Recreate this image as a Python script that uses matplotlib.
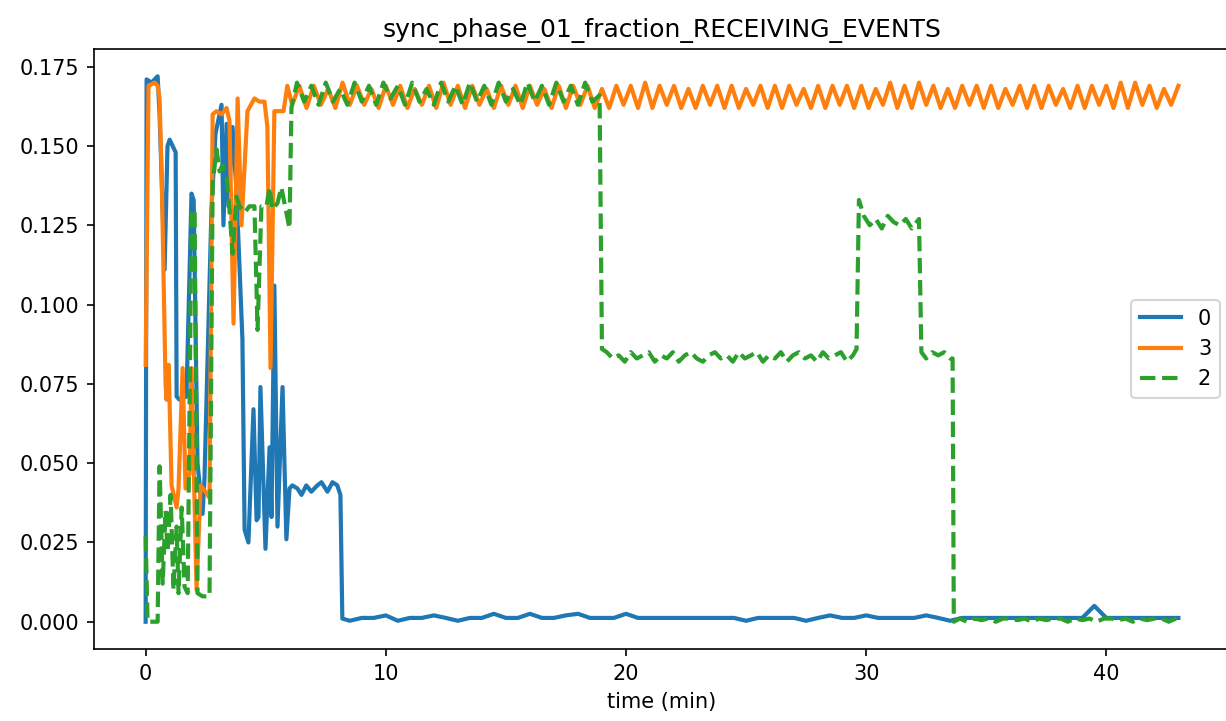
import numpy as np
import matplotlib.pyplot as plt

# --- series "0" (blue) ---
t0_early = [0.0, 0.04, 0.25, 0.37, 0.50, 0.58, 0.79, 0.91, 1.00, 1.25, 1.29, 1.41, 1.70,
            1.91, 2.00, 2.16, 2.37, 2.45, 2.74, 2.91, 3.16, 3.24, 3.37, 3.45, 3.62, 3.78,
            4.03, 4.12, 4.28, 4.49, 4.62, 4.70, 4.78, 4.99, 5.16, 5.24, 5.36, 5.49, 5.70,
            5.86, 5.99, 6.11, 6.32, 6.49, 6.69, 6.90, 7.15, 7.32, 7.57, 7.78, 7.98, 8.11, 8.19]
v0_early = [0.000, 0.171, 0.170, 0.171, 0.172, 0.160, 0.111, 0.150, 0.152, 0.148, 0.071, 0.070, 0.071,
            0.135, 0.133, 0.050, 0.034, 0.045, 0.130, 0.154, 0.163, 0.125, 0.157, 0.131, 0.156, 0.136,
            0.089, 0.029, 0.025, 0.067, 0.032, 0.033, 0.074, 0.023, 0.055, 0.033, 0.106, 0.030, 0.074,
            0.026, 0.042, 0.043, 0.042, 0.040, 0.043, 0.041, 0.043, 0.044, 0.041, 0.044, 0.043, 0.040, 0.001]
v0_tail = [0.0003, 0.0012, 0.0012, 0.002, 0.0003, 0.0012, 0.0012, 0.002, 0.0012, 0.0003,
           0.0012, 0.0012, 0.0025, 0.0012, 0.0012, 0.0025, 0.0012, 0.0012, 0.002, 0.0025,
           0.0012, 0.0012, 0.0012, 0.0025, 0.0012, 0.0012, 0.0012, 0.0012, 0.0012, 0.0012,
           0.0012, 0.0012, 0.0012, 0.0003, 0.0012, 0.0012, 0.0012, 0.0012, 0.0003, 0.0012,
           0.002, 0.0012, 0.0012, 0.002, 0.0012, 0.0012, 0.0012, 0.0012, 0.002, 0.0012,
           0.0003, 0.0012, 0.0012, 0.0012, 0.0012, 0.0012, 0.0012, 0.0012, 0.0012, 0.0012,
           0.0012, 0.0012, 0.005, 0.0012, 0.0012, 0.0012, 0.0012, 0.0012, 0.0012, 0.0012]

# --- series "3" (orange) ---
t3_early = [0.0, 0.12, 0.37, 0.50, 0.58, 0.67, 0.83, 0.87, 0.96, 1.08, 1.29, 1.37, 1.54, 1.66,
            1.83, 1.91, 2.12, 2.29, 2.49, 2.66, 2.79, 2.95, 3.16, 3.37, 3.49, 3.66, 3.83, 3.99,
            4.24, 4.53, 4.74, 4.95, 5.07, 5.20, 5.36, 5.57, 5.74, 5.90]
v3_early = [0.081, 0.169, 0.170, 0.169, 0.165, 0.140, 0.075, 0.070, 0.081, 0.043, 0.036, 0.042, 0.080, 0.042,
            0.047, 0.080, 0.010, 0.043, 0.041, 0.039, 0.160, 0.161, 0.160, 0.162, 0.158, 0.094, 0.165, 0.125,
            0.161, 0.165, 0.164, 0.164, 0.156, 0.080, 0.161, 0.161, 0.161, 0.169]
v3_wave = [0.163, 0.169, 0.162, 0.169, 0.163, 0.168, 0.162, 0.170, 0.163, 0.169,
           0.163, 0.168, 0.162, 0.169, 0.163, 0.169, 0.162, 0.168, 0.163, 0.169,
           0.162, 0.170, 0.163, 0.169, 0.162, 0.169, 0.163, 0.168, 0.162, 0.169,
           0.163, 0.169, 0.162, 0.169, 0.163, 0.168, 0.162, 0.169, 0.162, 0.169,
           0.163, 0.169, 0.162, 0.168, 0.162, 0.169, 0.163, 0.169, 0.162, 0.170,
           0.162, 0.169, 0.163, 0.169, 0.162, 0.168, 0.162, 0.169, 0.163, 0.169,
           0.162, 0.169, 0.162, 0.168, 0.163, 0.169, 0.162, 0.169, 0.162, 0.169,
           0.163, 0.168, 0.162, 0.169, 0.162, 0.169, 0.163, 0.169, 0.162, 0.169,
           0.162, 0.168, 0.163, 0.170, 0.162, 0.169, 0.162, 0.170, 0.163, 0.169,
           0.162, 0.168, 0.162, 0.169, 0.163, 0.169, 0.162, 0.169, 0.162, 0.168,
           0.163, 0.169, 0.162, 0.169, 0.162, 0.169, 0.163, 0.168, 0.162, 0.169,
           0.162, 0.169, 0.163, 0.169, 0.162, 0.170, 0.162, 0.170, 0.163, 0.169,
           0.162, 0.168, 0.163, 0.169]

# --- series "2" (green, dashed) ---
t2_early = [0.0, 0.08, 0.50, 0.58, 0.71, 0.83, 0.91, 1.04, 1.16, 1.29, 1.37, 1.50, 1.62, 1.75,
            1.91, 2.04, 2.16, 2.37, 2.49, 2.66, 2.79, 2.95, 3.08, 3.20, 3.37, 3.49, 3.62, 3.78,
            3.91, 4.12, 4.32, 4.53, 4.66, 4.82, 5.03, 5.16, 5.28, 5.49, 5.65, 5.86, 5.99, 6.07]
v2_early = [0.027, 0.000, 0.000, 0.049, 0.012, 0.035, 0.022, 0.040, 0.010, 0.030, 0.009, 0.036, 0.011, 0.009,
            0.129, 0.130, 0.009, 0.008, 0.008, 0.008, 0.138, 0.149, 0.142, 0.144, 0.140, 0.130, 0.116, 0.134,
            0.131, 0.129, 0.131, 0.131, 0.092, 0.131, 0.131, 0.137, 0.130, 0.132, 0.137, 0.129, 0.124, 0.162]
v2_wave = [0.170, 0.164, 0.169, 0.163, 0.170, 0.164, 0.168, 0.163, 0.170, 0.164,
           0.169, 0.163, 0.170, 0.165, 0.169, 0.163, 0.170, 0.164, 0.168, 0.163,
           0.170, 0.164, 0.169, 0.163, 0.170, 0.164, 0.169, 0.163, 0.170, 0.164,
           0.168, 0.163, 0.170, 0.164, 0.169, 0.163, 0.170, 0.164, 0.169, 0.163,
           0.170, 0.164, 0.166]
v2_mid1 = [0.085, 0.083, 0.084, 0.082, 0.085, 0.083, 0.084, 0.085, 0.082, 0.084,
           0.083, 0.085, 0.082, 0.084, 0.085, 0.083, 0.082, 0.084, 0.085, 0.083,
           0.084, 0.082, 0.085, 0.083, 0.084, 0.085, 0.082, 0.084, 0.083, 0.085,
           0.082, 0.084, 0.085, 0.083, 0.084, 0.082, 0.085, 0.083, 0.084, 0.085,
           0.082, 0.084]
v2_mid2 = [0.128, 0.125, 0.127, 0.124, 0.128, 0.126, 0.125, 0.127, 0.124]
v2_mid3 = [0.083, 0.085, 0.084, 0.085, 0.083]
v2_tail = [0.001, 0.0, 0.001, 0.0005, 0.001, 0.0, 0.001, 0.001, 0.0005, 0.001,
           0.0, 0.001, 0.0005, 0.001, 0.001, 0.0, 0.001, 0.0005, 0.001, 0.0,
           0.001, 0.001, 0.0005, 0.001, 0.0, 0.001, 0.0005, 0.001, 0.001, 0.0, 0.001]

# assemble time axes (regular sampling in the steady parts)
t0 = np.concatenate([t0_early, 8.5 + 0.5 * np.arange(len(v0_tail))])
v0 = np.concatenate([v0_early, v0_tail])

t3 = np.concatenate([t3_early, 6.1 + 0.3 * np.arange(len(v3_wave))])
v3 = np.concatenate([v3_early, v3_wave])

t2 = np.concatenate([t2_early,
                     6.3 + 0.3 * np.arange(len(v2_wave)),
                     [19.0],
                     19.2 + 0.25 * np.arange(len(v2_mid1)),
                     [29.6, 29.7],
                     29.9 + 0.25 * np.arange(len(v2_mid2)),
                     [32.2, 32.3],
                     32.5 + 0.25 * np.arange(len(v2_mid3)),
                     [33.6, 33.65],
                     33.9 + 0.3 * np.arange(len(v2_tail)),
                     [43.0]])
v2 = np.concatenate([v2_early, v2_wave, [0.086], v2_mid1, [0.086, 0.133], v2_mid2,
                     [0.127, 0.085], v2_mid3, [0.083, 0.0], v2_tail, [0.001]])

fig = plt.figure(figsize=(1226 / 150, 721 / 150), dpi=150)
ax = fig.add_axes([94 / 1226, 1 - 649 / 721, 1136 / 1226, 600 / 721])

ax.plot(t0, v0, color='#1f77b4', lw=2, label='0')
ax.plot(t3, v3, color='#ff7f0e', lw=2, label='3')
ax.plot(t2, v2, color='#2ca02c', lw=2, ls='--', label='2')

ax.set_xlim(-2.15, 45.15)
ax.set_ylim(-0.0086, 0.1806)
ax.set_xticks([0, 10, 20, 30, 40])
ax.set_yticks([0.0, 0.025, 0.05, 0.075, 0.1, 0.125, 0.15, 0.175])
ax.set_yticklabels(['0.000', '0.025', '0.050', '0.075', '0.100', '0.125', '0.150', '0.175'])
ax.set_xlabel('time (min)')
ax.set_title('sync_phase_01_fraction_RECEIVING_EVENTS')
ax.legend(loc='center right')

fig.savefig('out.png', dpi=150)
